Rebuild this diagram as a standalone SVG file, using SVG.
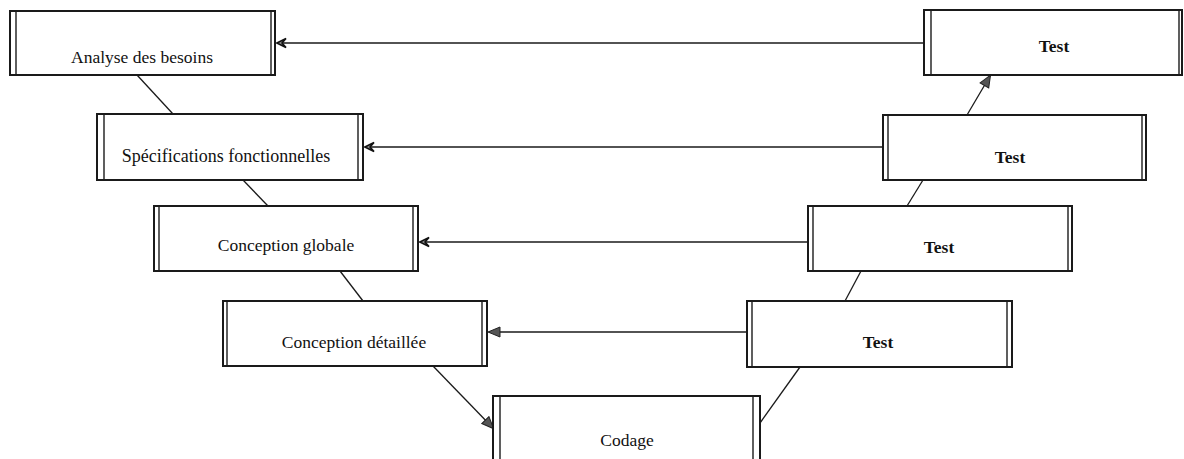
<svg xmlns="http://www.w3.org/2000/svg" width="1184" height="459" viewBox="0 0 1184 459">
  <style>
    .frame { fill: #ffffff; stroke: #1a1a1a; stroke-width: 2; }
    .side { stroke: #1a1a1a; stroke-width: 1.4; fill: none; }
    .lbl { font-family: "Liberation Serif", "Times New Roman", serif; font-size: 17.5px; fill: #111111; text-anchor: middle; }
    .test { font-family: "Liberation Serif", "Times New Roman", serif; font-size: 17.5px; font-weight: bold; fill: #111111; text-anchor: middle; }
    .link { stroke: #1a1a1a; stroke-width: 1.3; fill: none; }
  </style>
  <defs>
    <!-- notched open head, tip at the path end -->
    <marker id="open" viewBox="-1 -6 12 12" refX="10" refY="0" markerWidth="12" markerHeight="12" markerUnits="userSpaceOnUse" orient="auto">
      <path d="M1,-4.5 L10,0 L1,4.5 L5,0 Z" fill="#9a9a9a" stroke="#111111" stroke-width="1.6" stroke-linejoin="miter"/>
    </marker>
    <!-- filled head -->
    <marker id="solid" viewBox="-1 -6 14 12" refX="11" refY="0" markerWidth="14" markerHeight="12" markerUnits="userSpaceOnUse" orient="auto">
      <path d="M0,-5 L12,0 L0,5 Z" fill="#555555" stroke="#222222" stroke-width="1"/>
    </marker>
  </defs>

  <rect width="1184" height="459" fill="#ffffff"/>

  <g id="connectors">
    <!-- feedback from each test back to its phase -->
    <path class="link" d="M924,43 L277,43" marker-end="url(#open)"/>
    <path class="link" d="M883,147 L365,147" marker-end="url(#open)"/>
    <path class="link" d="M808,242 L420,242" marker-end="url(#open)"/>
    <path class="link" d="M747,332 L489,332" marker-end="url(#solid)"/>
    <!-- descending branch -->
    <line class="link" x1="137" y1="75" x2="173" y2="114"/>
    <line class="link" x1="243" y1="180" x2="268" y2="206"/>
    <line class="link" x1="340" y1="271" x2="363" y2="301"/>
    <path class="link" d="M433,366 L493,428" marker-end="url(#solid)"/>
    <!-- ascending branch -->
    <line class="link" x1="760" y1="423" x2="800" y2="367"/>
    <line class="link" x1="845" y1="301" x2="861" y2="271"/>
    <line class="link" x1="907" y1="206" x2="923" y2="180"/>
    <path class="link" d="M967,115 L990,76" marker-end="url(#solid)"/>
  </g>

  <g id="analyse">
    <rect class="frame" x="10" y="11" width="265" height="64"/>
    <line class="side" x1="16" y1="12" x2="16" y2="74"/>
    <line class="side" x1="271" y1="12" x2="271" y2="74"/>
    <text class="lbl" x="142" y="63">Analyse des besoins</text>
  </g>

  <g id="specifications">
    <rect class="frame" x="97" y="114" width="266" height="66"/>
    <line class="side" x1="104" y1="115" x2="104" y2="179"/>
    <line class="side" x1="358" y1="115" x2="358" y2="179"/>
    <text class="lbl" x="226" y="162" style="font-size:18px">Spécifications fonctionnelles</text>
  </g>

  <g id="conception-globale">
    <rect class="frame" x="154" y="206" width="264" height="65"/>
    <line class="side" x1="159" y1="207" x2="159" y2="270"/>
    <line class="side" x1="413" y1="207" x2="413" y2="270"/>
    <text class="lbl" x="286" y="251">Conception globale</text>
  </g>

  <g id="conception-detaillee">
    <rect class="frame" x="223" y="301" width="264" height="65"/>
    <line class="side" x1="227" y1="302" x2="227" y2="365"/>
    <line class="side" x1="482" y1="302" x2="482" y2="365"/>
    <text class="lbl" x="354" y="348">Conception détaillée</text>
  </g>

  <g id="codage">
    <rect class="frame" x="493" y="396" width="267" height="80"/>
    <line class="side" x1="500" y1="397" x2="500" y2="476"/>
    <line class="side" x1="753" y1="397" x2="753" y2="476"/>
    <text class="lbl" x="627" y="446">Codage</text>
  </g>

  <g id="test-1">
    <rect class="frame" x="924" y="10" width="258" height="65"/>
    <line class="side" x1="931" y1="11" x2="931" y2="74"/>
    <line class="side" x1="1179" y1="11" x2="1179" y2="74"/>
    <text class="test" x="1054" y="52">Test</text>
  </g>

  <g id="test-2">
    <rect class="frame" x="883" y="115" width="263" height="65"/>
    <line class="side" x1="888" y1="116" x2="888" y2="179"/>
    <line class="side" x1="1142" y1="116" x2="1142" y2="179"/>
    <text class="test" x="1010" y="163">Test</text>
  </g>

  <g id="test-3">
    <rect class="frame" x="808" y="206" width="264" height="65"/>
    <line class="side" x1="813" y1="207" x2="813" y2="270"/>
    <line class="side" x1="1068" y1="207" x2="1068" y2="270"/>
    <text class="test" x="939" y="253">Test</text>
  </g>

  <g id="test-4">
    <rect class="frame" x="747" y="301" width="265" height="66"/>
    <line class="side" x1="752" y1="302" x2="752" y2="366"/>
    <line class="side" x1="1007" y1="302" x2="1007" y2="366"/>
    <text class="test" x="878" y="348">Test</text>
  </g>
</svg>
